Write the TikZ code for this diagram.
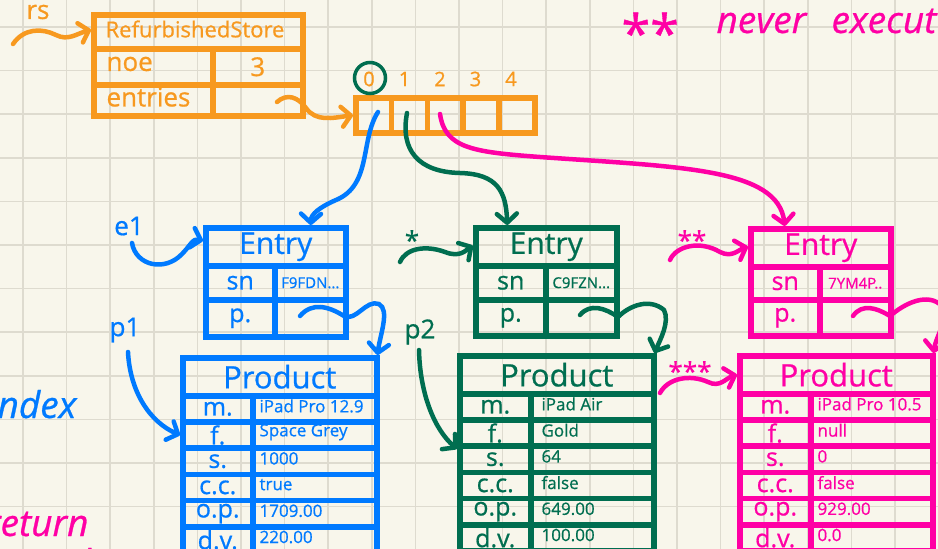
\documentclass[tikz,border=0pt]{standalone}
\usepackage{fontspec}
\setmainfont{Open Sans}[FakeBold=0.7]
\usetikzlibrary{arrows.meta}

\definecolor{paper}{HTML}{F8F6EB}
\definecolor{gridline}{HTML}{DEDBCF}
\definecolor{rsorange}{HTML}{F7991F}
\definecolor{eblue}{HTML}{007AFF}
\definecolor{egreen}{HTML}{006E50}
\definecolor{epink}{HTML}{FF00A5}

\tikzset{
  cell/.style={draw, line width=5.5pt, anchor=north west, inner sep=0pt},
  ptr/.style={line width=4.5pt, line cap=round,
    -{Straight Barb[length=9pt,width=20pt,round]}},
  storefont/.style={font=\fontsize{22}{22}\selectfont},
  storekey/.style={font=\fontsize{26}{26}\selectfont},
  idxfont/.style={font=\fontsize{20}{20}\selectfont},
  hdfont/.style={font=\fontsize{30}{30}\selectfont},
  prodfont/.style={font=\fontsize{31}{31}\selectfont},
  keyfont/.style={font=\fontsize{25}{25}\selectfont},
  snfont/.style={font=\fontsize{15}{15}\selectfont},
  valfont/.style={font=\fontsize{17}{17}\selectfont},
  tagfont/.style={font=\fontsize{26}{26}\selectfont},
  scribble/.style={font=\fontsize{37}{37}\selectfont\itshape}
}

\begin{document}
\begin{tikzpicture}[x=1pt,y=-1pt]

% paper
 \clip (0,0) rectangle (938,549);
 \fill[paper] (0,0) rectangle (938,549);
 \foreach \g in {0,...,21}
   \draw[gridline, line width=1.6pt] (23+43.6*\g,0) -- (23+43.6*\g,549);
 \foreach \g in {0,...,12}
   \draw[gridline, line width=1.6pt] (0,27+43.6*\g) -- (938,27+43.6*\g);

% RefurbishedStore
\begin{scope}[rsorange]
 \node[cell, minimum width=209pt, minimum height=34pt] (storeT) at (91,12) {};
 \node[storefont] (storeName) at (195,29) {RefurbishedStore};
 \node[cell, minimum width=119pt, minimum height=36pt] (noeK) at (91,46) {};
 \node[cell, minimum width=90pt, minimum height=36pt] (noeV) at (210,46) {};
 \node[cell, minimum width=119pt, minimum height=31pt] (entK) at (91,82) {};
 \node[cell, minimum width=90pt, minimum height=31pt] (entV) at (210,82) {};
 \node[storekey, anchor=west] (noeT) at (103,64) {noe};
 \node[storekey] (noeN) at (noeV) {3};
 \node[storekey, anchor=west] (entT) at (103,97) {entries};

 \node[tagfont] (rsT) at (38,12) {rs};
 \coordinate (rsS) at (13,44);
 \draw[ptr] (rsS) .. controls (24,28) and (42,28) .. (56,35)
   .. controls (68,41) and (76,34) .. ([yshift=2pt]storeT.west);

% entries array
 \foreach \i in {0,...,4} {
   \node[cell, minimum width=35.8pt, minimum height=35pt] (a\i) at (353+35.8*\i,95) {};
   \node[idxfont] (idx\i) at (369+35.5*\i,79) {\i};
 }
 \coordinate (entS) at (277,102);
 \draw[ptr] (entS) .. controls (287,93) and (298,97) .. (306,108)
   .. controls (316,122) and (332,118) .. (a0.west);
\end{scope}
 \node[draw=egreen, line width=3.5pt, circle, minimum size=31pt, inner sep=0pt] (ring) at (370,78) {};

% first entry (blue)
\begin{scope}[eblue]
 \node[cell, minimum width=140pt, minimum height=38pt] (entry1) at (203,225) {};
 \node[hdfont] (entry1T) at (entry1) {Entry};
 \node[cell, minimum width=69pt, minimum height=34pt] (sn1) at (203,263) {};
 \node[cell, minimum width=71pt, minimum height=34pt] (snv1) at (272,263) {};
 \node[cell, minimum width=69pt, minimum height=37pt] (ep1) at (203,297) {};
 \node[cell, minimum width=71pt, minimum height=37pt] (epv1) at (272,297) {};
 \node[keyfont] (sn1T) at (sn1) {sn};
 \node[snfont] (snv1T) at (snv1) {F9FDN...};
 \node[keyfont] (ep1T) at (ep1) {p.};

 \node[cell, minimum width=194pt, minimum height=38pt] (prod1) at (180,355) {};
 \node[prodfont] (prod1T) at (prod1) {Product};
 \foreach \k/\v [count=\r from 0] in {m./iPad Pro 12.9, f./Space Grey, s./1000,
     c.c./true, o.p./1709.00, d.v./220.00} {
   \node[cell, minimum width=70pt, minimum height=26.2pt, keyfont] (r1k\r) at (180,393+26.2*\r) {\k};
   \node[cell, minimum width=124pt, minimum height=26.2pt] (r1v\r) at (250,393+26.2*\r) {};
   \node[valfont, anchor=west] (r1t\r) at (256,406+26.2*\r) {\v};
 }

 \node[tagfont] (e1T) at (129,226) {e1};
 \coordinate (e1S) at (132,243);
 \draw[ptr] (e1S) .. controls (136,266) and (165,272) .. (182,254)
   .. controls (190,246) and (193,238) .. ([yshift=6pt]entry1.west);
 \coordinate (c0) at (378,112);
 \draw[ptr] (c0) .. controls (360,140) and (372,185) .. (336,200)
   .. controls (320,207) and (311,214) .. ([xshift=35pt]entry1.north);
 \coordinate (ep1S) at (300,316);
 \draw[ptr] (ep1S) .. controls (312,302) and (328,306) .. (344,316)
   .. controls (356,322) and (366,299) .. (379,304)
   .. controls (390,310) and (380,335) .. ([xshift=-2pt]prod1.north east);
 \node[tagfont] (p1T) at (125,330) {p1};
 \coordinate (p1S) at (128,352);
 \draw[ptr] (p1S) .. controls (130,392) and (150,422) .. (r1k1.west);

 \node[scribble, anchor=base east] (indexT) at (80,418) {index};
\end{scope}

% second entry (green)
\begin{scope}[egreen]
 \node[cell, minimum width=141pt, minimum height=38pt] (entry2) at (473,225) {};
 \node[hdfont] (entry2T) at (entry2) {Entry};
 \node[cell, minimum width=70pt, minimum height=34pt] (sn2) at (473,263) {};
 \node[cell, minimum width=71pt, minimum height=34pt] (snv2) at (543,263) {};
 \node[cell, minimum width=70pt, minimum height=36pt] (ep2) at (473,297) {};
 \node[cell, minimum width=71pt, minimum height=36pt] (epv2) at (543,297) {};
 \node[keyfont] (sn2T) at (sn2) {sn};
 \node[snfont] (snv2T) at (snv2) {C9FZN...};
 \node[keyfont] (ep2T) at (ep2) {p.};

 \node[cell, minimum width=194pt, minimum height=38pt] (prod2) at (457,353) {};
 \node[prodfont] (prod2T) at (prod2) {Product};
 \foreach \k/\v [count=\r from 0] in {m./iPad Air, f./Gold, s./64,
     c.c./false, o.p./649.00, d.v./100.00} {
   \node[cell, minimum width=71pt, minimum height=26.2pt, keyfont] (r2k\r) at (457,391+26.2*\r) {\k};
   \node[cell, minimum width=123pt, minimum height=26.2pt] (r2v\r) at (528,391+26.2*\r) {};
   \node[valfont, anchor=west] (r2t\r) at (538,404+26.2*\r) {\v};
 }

 \node[tagfont] (st1T) at (412,240) {*};
 \coordinate (st1S) at (400,262);
 \draw[ptr] (st1S) .. controls (406,248) and (426,245) .. (445,252)
   .. controls (460,258) and (466,250) .. ([yshift=1pt]entry2.west);
 \coordinate (c1) at (407,113);
 \draw[ptr] (c1) .. controls (400,150) and (418,172) .. (460,173)
   .. controls (498,174) and (506,192) .. ([xshift=-39pt]entry2.north);
 \coordinate (ep2S) at (580,315);
 \draw[ptr] (ep2S) .. controls (590,303) and (605,308) .. (618,317)
   .. controls (630,305) and (650,298) .. (664,310)
   .. controls (670,322) and (660,340) .. ([xshift=-2pt]prod2.north east);
 \node[tagfont] (p2T) at (420,332) {p2};
 \coordinate (p2S) at (419,350);
 \draw[ptr] (p2S) .. controls (420,395) and (435,430) .. (r2k1.south west);
\end{scope}

% third entry (pink)
\begin{scope}[epink]
 \node[cell, minimum width=140pt, minimum height=38pt] (entry3) at (748,226) {};
 \node[hdfont] (entry3T) at (entry3) {Entry};
 \node[cell, minimum width=69pt, minimum height=33pt] (sn3) at (748,264) {};
 \node[cell, minimum width=71pt, minimum height=33pt] (snv3) at (817,264) {};
 \node[cell, minimum width=69pt, minimum height=36pt] (ep3) at (748,297) {};
 \node[cell, minimum width=71pt, minimum height=36pt] (epv3) at (817,297) {};
 \node[keyfont] (sn3T) at (sn3) {sn};
 \node[snfont] (snv3T) at (snv3) {7YM4P..};
 \node[keyfont] (ep3T) at (ep3) {p.};

 \node[cell, minimum width=193pt, minimum height=38pt] (prod3) at (737,353) {};
 \node[prodfont] (prod3T) at (prod3) {Product};
 \foreach \k/\v [count=\r from 0] in {m./iPad Pro 10.5, f./null, s./0,
     c.c./false, o.p./929.00, d.v./0.0} {
   \node[cell, minimum width=71pt, minimum height=26.2pt, keyfont] (r3k\r) at (737,391+26.2*\r) {\k};
   \node[cell, minimum width=122pt, minimum height=26.2pt] (r3v\r) at (808,391+26.2*\r) {};
   \node[valfont, anchor=west] (r3t\r) at (814,404+26.2*\r) {\v};
 }

 \node[tagfont] (st2T) at (692,240) {**};
 \coordinate (st2S) at (670,260);
 \draw[ptr] (st2S) .. controls (676,246) and (700,240) .. (720,252)
   .. controls (732,258) and (738,250) .. ([yshift=1pt]entry3.west);
 \coordinate (c2) at (440,114);
 \draw[ptr] (c2) .. controls (445,148) and (472,152) .. (540,157)
   .. controls (680,167) and (778,168) .. ([xshift=-36pt]entry3.north);
 \coordinate (ep3S) at (853,316);
 \draw[ptr] (ep3S) .. controls (862,303) and (877,308) .. (890,316)
   .. controls (905,303) and (928,292) .. (942,306)
   .. controls (948,322) and (936,336) .. ([xshift=-2pt]prod3.north east);
 \node[tagfont] (st3T) at (690,371) {***};
 \coordinate (st3S) at (660,393);
 \draw[ptr] (st3S) .. controls (668,378) and (690,374) .. (708,382)
   .. controls (720,388) and (726,378) .. (prod3.west);

% scribbled notes
 \node[scribble, anchor=base west, font=\fontsize{52}{52}\selectfont] (neverA) at (618,52) {**};
 \node[scribble, anchor=base west] (neverB) at (713,33) {never};
 \node[scribble, anchor=base west] (neverC) at (828,33) {executed};
 \node[scribble, anchor=base east] (returnT) at (92,536) {return};
 \node[scribble, anchor=base west] (valueT) at (40,576) {value};
\end{scope}

\end{tikzpicture}
\end{document}
